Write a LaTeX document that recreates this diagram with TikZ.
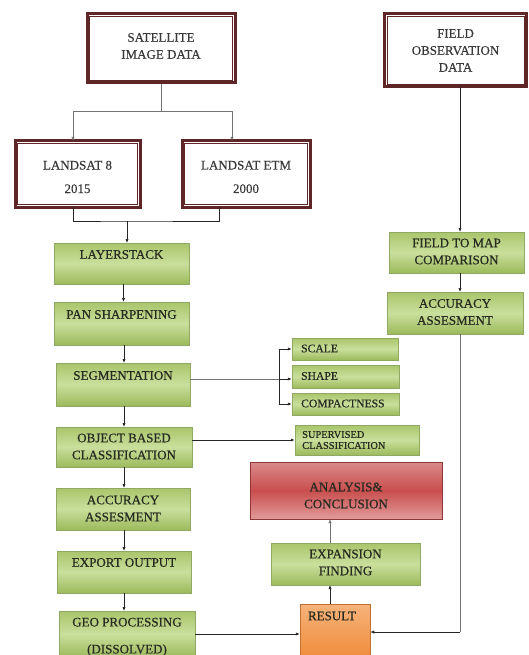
\documentclass[tikz,border=0pt]{standalone}
\usepackage{fontspec}
\setmainfont{Liberation Serif}
\newfontfamily\dfont{Liberation Serif}[FakeBold=0.5]
\newfontfamily\wfont{Liberation Serif}[FakeBold=0.25]
\usetikzlibrary{arrows.meta,calc,shadows}
\definecolor{maroon}{HTML}{5E2626}
\definecolor{gtop}{HTML}{A9C56B}
\definecolor{gmid}{HTML}{C9DF9C}
\definecolor{gbot}{HTML}{9CBA5C}
\definecolor{gline}{HTML}{8FA862}
\definecolor{rtop}{HTML}{D98A8A}
\definecolor{rmid}{HTML}{C94E4E}
\definecolor{rbot}{HTML}{E29A9A}
\definecolor{otop}{HTML}{F6B37A}
\definecolor{obot}{HTML}{F08E3E}
\definecolor{txt}{HTML}{262A20}
\begin{document}
\begin{tikzpicture}[x=1pt,y=-1pt,
  every node/.style={font=\dfont\fontsize{13}{17}\selectfont, text=txt, inner sep=0pt, align=center},
  dbox/.style={draw=maroon, line width=3pt, fill=white},
  inbox/.style={draw=maroon, line width=0.8pt},
  gbox/.style={draw=gline, line width=0.5pt, top color=gtop, bottom color=gbot, middle color=gmid,
     drop shadow={shadow xshift=0.8pt, shadow yshift=-1.3pt, opacity=0.55, fill=black!60}},
  rbox/.style={draw=rmid!70!black, line width=0.5pt, top color=rtop, bottom color=rbot, middle color=rmid,
     drop shadow={shadow xshift=0.8pt, shadow yshift=-1.3pt, opacity=0.55, fill=black!60}},
  obox/.style={draw=obot!80!black, line width=0.5pt, top color=otop, bottom color=obot,
     drop shadow={shadow xshift=0.8pt, shadow yshift=-1.3pt, opacity=0.55, fill=black!60}},
  lbl/.style={},
  wlbl/.style={text=black!78, font=\wfont\fontsize{13}{17}\selectfont},
  small/.style={font=\dfont\fontsize{11.6}{12}\selectfont},
  tiny/.style={font=\dfont\fontsize{10.4}{11}\selectfont},
  conn/.style={draw=black!85, line width=0.7pt},
  arr/.style={conn, -{Latex[length=4pt,width=3.2pt]}},
  gconn/.style={draw=black!55, line width=0.6pt},
  garr/.style={gconn, -{Latex[length=4pt,width=3.2pt]}}
]
\useasboundingbox (0,0) rectangle (528,655);

% ---------- double framed input boxes ----------
\node[dbox, minimum width=148, minimum height=69] (sat) at (161,48.5) {};
\draw[inbox] ($(sat.north west)+(4,4)$) rectangle ($(sat.south east)+(-4,-4)$);
\node[wlbl] (satt) at (161,46) {SATELLITE\\IMAGE DATA};

\node[dbox, minimum width=142, minimum height=73] (fld) at (455.5,50.5) {};
\draw[inbox] ($(fld.north west)+(4,4)$) rectangle ($(fld.south east)+(-4,-4)$);
\node[wlbl] (fldt) at (455.5,50.5) {FIELD\\OBSERVATION\\DATA};

\node[dbox, minimum width=125, minimum height=66] (l8) at (77.5,174) {};
\draw[inbox] ($(l8.north west)+(4,4)$) rectangle ($(l8.south east)+(-4,-4)$);
\node[wlbl, font=\wfont\fontsize{13}{23.5}\selectfont] (l8t) at (77.5,177) {LANDSAT 8\\2015};

\node[dbox, minimum width=128, minimum height=66] (etm) at (246,174) {};
\draw[inbox] ($(etm.north west)+(4,4)$) rectangle ($(etm.south east)+(-4,-4)$);
\node[wlbl, font=\wfont\fontsize{13}{23.5}\selectfont] (etmt) at (246,177) {LANDSAT ETM\\2000};

% ---------- left green column ----------
\node[gbox, minimum width=135, minimum height=41] (lay) at (121.5,263.5) {};
\node[lbl] (layt) at (121.5,254.5) {LAYERSTACK};
\node[gbox, minimum width=135, minimum height=43] (pan) at (121.5,323.5) {};
\node[lbl] (pant) at (121.5,314.5) {PAN SHARPENING};
\node[gbox, minimum width=134, minimum height=43] (seg) at (123,384.5) {};
\node[lbl] (segt) at (123,375.5) {SEGMENTATION};
\node[gbox, minimum width=136, minimum height=40] (obc) at (124,447) {};
\node[lbl] (obct) at (124,446.5) {OBJECT BASED\\CLASSIFICATION};
\node[gbox, minimum width=134, minimum height=42] (acc1) at (123,509) {};
\node[lbl] (acc1t) at (123,508.5) {ACCURACY\\ASSESMENT};
\node[gbox, minimum width=134, minimum height=42] (exo) at (124,572) {};
\node[lbl] (exot) at (124,562.5) {EXPORT OUTPUT};
\node[gbox, minimum width=136, minimum height=46] (geo) at (127,634) {};
\node[lbl, font=\dfont\fontsize{13}{27}\selectfont] (geot) at (127,637) {GEO PROCESSING\\(DISSOLVED)};

% ---------- right green column ----------
\node[gbox, minimum width=135, minimum height=41] (ftm) at (456.5,252.5) {};
\node[lbl] (ftmt) at (456.5,251.5) {FIELD TO MAP\\COMPARISON};
\node[gbox, minimum width=136, minimum height=42] (acc2) at (455,313) {};
\node[lbl] (acc2t) at (455,312) {ACCURACY\\ASSESMENT};

% ---------- segmentation parameters ----------
\node[gbox, minimum width=106, minimum height=22] (scl) at (345,349) {};
\node[lbl, small, anchor=west] (sclt) at (301,348.5) {SCALE};
\node[gbox, minimum width=107, minimum height=23] (shp) at (345.5,376.5) {};
\node[lbl, small, anchor=west] (shpt) at (301,376) {SHAPE};
\node[gbox, minimum width=107, minimum height=22] (cmp) at (345.5,404) {};
\node[lbl, small, anchor=west] (cmpt) at (301,403.5) {COMPACTNESS};
\node[gbox, minimum width=124, minimum height=30] (sup) at (357,440) {};
\node[lbl, tiny, anchor=west, align=left] (supt) at (302,440) {SUPERVISED\\CLASSIFICATION};

% ---------- results ----------
\node[rbox, minimum width=192, minimum height=57] (ana) at (346,490.5) {};
\node[lbl] (anat) at (346,495.5) {ANALYSIS\&\\CONCLUSION};
\node[gbox, minimum width=149, minimum height=42] (efd) at (345.5,564) {};
\node[lbl] (efdt) at (345.5,562.5) {EXPANSION\\FINDING};
\node[obox, minimum width=70, minimum height=51] (res) at (335,629.5) {};
\node[lbl] (rest) at (332,616) {RESULT};

% ---------- connector anchor points ----------
\coordinate (j1) at (161,111);
\coordinate (l8top) at (73,141);
\coordinate (etmtop) at (232,141);
\coordinate (l8bot) at (73,207);
\coordinate (etmbot) at (219,207);
\coordinate (j2) at (127,221);
\coordinate (laytop) at (127,243);
\coordinate (a1) at (123.5,284); \coordinate (b1) at (123.5,302);
\coordinate (a2) at (124,345);   \coordinate (b2) at (124,363);
\coordinate (a3) at (124,406);   \coordinate (b3) at (124,427);
\coordinate (a4) at (124,467);   \coordinate (b4) at (124,488);
\coordinate (a5) at (124,530);   \coordinate (b5) at (124,551);
\coordinate (a6) at (124,593);   \coordinate (b6) at (124,611);
\coordinate (br) at (279,379);
\coordinate (f1) at (460,87);    \coordinate (f2) at (460,232);
\coordinate (f3) at (460,273);   \coordinate (f4) at (460,292);
\coordinate (f5) at (460,334);   \coordinate (j3) at (460,632);
\coordinate (r1) at (330,604);   \coordinate (r2) at (330,585);
\coordinate (r3) at (330,543);   \coordinate (r4) at (330,519);

% ---------- connectors ----------
\draw[gconn] (sat.south) -- (j1);
\draw[garr] (j1) -| (l8top);
\draw[garr] (j1) -| (etmtop);
\draw[conn] (l8bot) |- (j2) -| (etmbot);
\draw[arr] (j2) -- (laytop);

\draw[arr] (a1) -- (b1);
\draw[arr] (a2) -- (b2);
\draw[arr] (a3) -- (b3);
\draw[arr] (a4) -- (b4);
\draw[arr] (a5) -- (b5);
\draw[arr] (a6) -- (b6);

\draw[gconn] (seg.east |- br) -- (br);
\draw[arr] (br) -- (br -| shp.west);
\draw[arr] (br) |- (scl.west);
\draw[arr] (br) |- (cmp.west);
\draw[arr] (obc.east |- sup.west) -- (sup.west);

\draw[arr] (f1) -- (f2);
\draw[arr] (f3) -- (f4);
\draw[gconn] (f5) -- (j3);
\draw[arr] (j3) -- (j3 -| res.east);

\draw[arr] (geo.east |- 0,634) -- (res.west |- 0,634);
\draw[arr] (r1) -- (r2);
\draw[garr] (r3) -- (r4);
\end{tikzpicture}
\end{document}
